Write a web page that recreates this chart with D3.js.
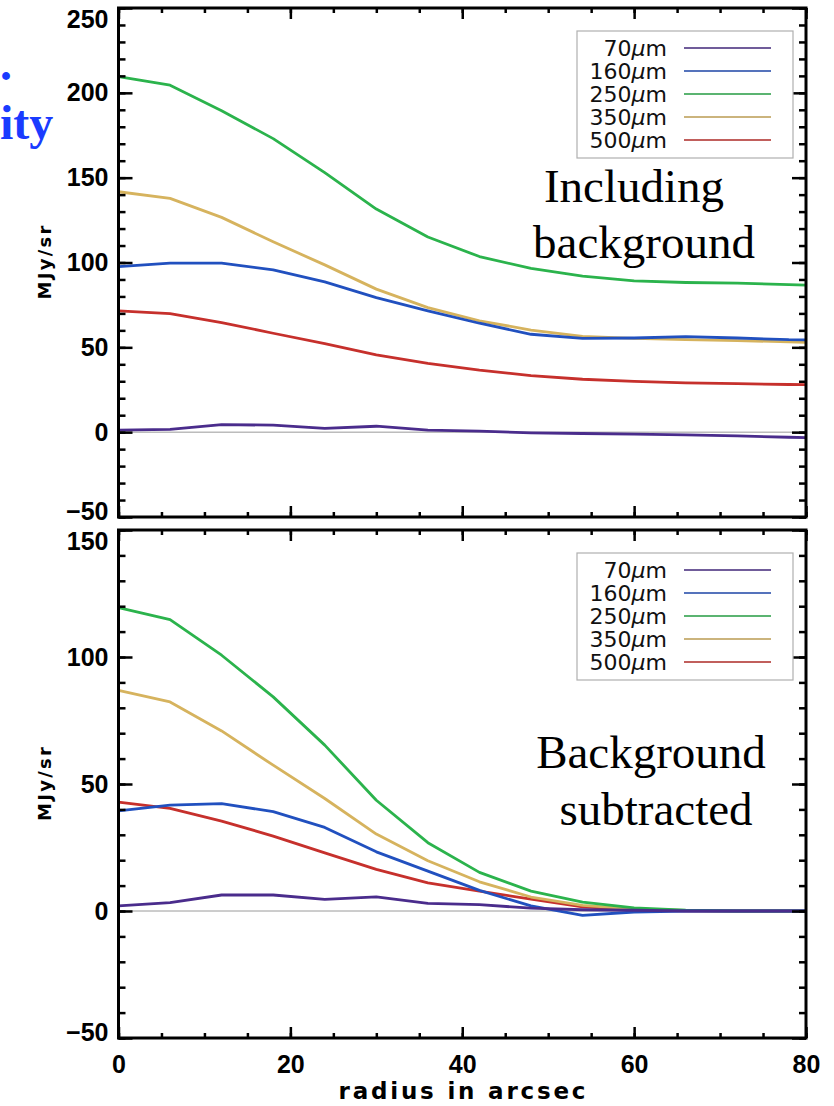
<!DOCTYPE html>
<html>
<head>
<meta charset="utf-8">
<script src="https://cdn.jsdelivr.net/npm/d3@7"></script>
<style>
  body { margin: 0; background: #fff; }
  svg { display: block; }
</style>
</head>
<body>
<script>
const svgWidth = 834;
const svgHeight = 1106;

// radius in arcsec (last point lies past the frame and is clipped)
const radii = [0, 6, 12, 18, 24, 30, 36, 42, 48, 54, 60, 66, 72, 78, 84];

const bands = ['70', '160', '250', '350', '500'];
const bandColors = ['#4a2c8c', '#2150bf', '#2bb34c', '#d6b35e', '#c6302c'];

// top panel: including background (MJy/sr)
const withBg70  = [1.2, 1.6, 4.5, 4.1, 2.2, 3.5, 1.2, 0.6, -0.4, -0.8, -1.2, -1.6, -2.2, -3.0, -3.5];
const withBg160 = [97.6, 99.6, 99.6, 95.7, 88.6, 79.3, 71.5, 64.2, 57.7, 55.3, 55.5, 56.3, 55.5, 54.5, 54.2];
const withBg250 = [209.5, 204.5, 189.5, 173, 153, 131.5, 115, 103.5, 96.5, 92, 89.2, 88.2, 87.8, 87, 86];
const withBg350 = [141.7, 137.8, 126.6, 112.2, 98.6, 84.3, 73.4, 65.6, 60.2, 56.5, 55.3, 54.5, 54, 53.2, 52.5];
const withBg500 = [71.5, 69.9, 64.6, 58.3, 52.2, 45.5, 40.6, 36.6, 33.3, 31.2, 29.9, 29.1, 28.6, 28.1, 27.8];

// bottom panel: background subtracted (MJy/sr)
const noBg70  = [2.0, 3.3, 6.3, 6.3, 4.6, 5.6, 3.0, 2.5, 1.1, 0.5, 0.3, 0, 0, 0, 0];
const noBg160 = [39.4, 41.7, 42.3, 39.1, 32.9, 23.3, 15.7, 8.1, 2.0, -1.7, -0.4, 0, 0, 0, 0];
const noBg250 = [119.4, 114.7, 100.7, 84.3, 65.3, 43.6, 26.9, 15.2, 7.8, 3.5, 1.2, 0.3, 0, 0, 0];
const noBg350 = [86.9, 82.3, 70.9, 57.4, 44.3, 30.3, 19.8, 11.5, 5.5, 2.2, 0.8, 0.2, 0, 0, 0];
const noBg500 = [42.9, 40.4, 35.4, 29.5, 22.9, 16.4, 11.1, 7.8, 4.7, 1.6, 0.5, 0.1, 0, 0, 0];

const xTicks = [0, 20, 40, 60, 80];

const panels = [
    {id: 'top', top: 8, bottom: 517, domain: [-50, 250], yTicks: [-50, 0, 50, 100, 150, 200, 250],
     series: [withBg70, withBg160, withBg250, withBg350, withBg500],
     note: ['Including', 'background'], noteX: [634, 644], noteY: [202, 258], xLabels: false},
    {id: 'bot', top: 530, bottom: 1038, domain: [-50, 150], yTicks: [-50, 0, 50, 100, 150],
     series: [noBg70, noBg160, noBg250, noBg350, noBg500],
     note: ['Background', 'subtracted'], noteX: [651, 656], noteY: [768, 825], xLabels: true}
];

const left = 118.5, right = 806;
const x = d3.scaleLinear().domain([0, 80]).range([left, right]);

const svg = d3.select('body').append('svg')
    .attr('width', svgWidth)
    .attr('height', svgHeight);

// leftover text from the neighbouring figure
svg.append('text').attr('x', 0).attr('y', 80)
    .attr('font-family', 'Liberation Serif').attr('font-weight', 'bold')
    .attr('font-size', 48).attr('fill', '#1a3bff').text('.');
svg.append('text').attr('x', 0).attr('y', 139)
    .attr('font-family', 'Liberation Serif').attr('font-weight', 'bold')
    .attr('font-size', 48).attr('fill', '#1a3bff').text('ity');

const tickFont = 'Liberation Sans';
const labelFont = 'DejaVu Sans';

function styleAxis(g) {
    g.select('.domain').remove();
    g.selectAll('line').attr('stroke', '#000').attr('stroke-width', 2.5);
}

function range(a, b, step) {
    return d3.range(a, b + step / 2, step);
}

panels.forEach(function(p) {
    const y = d3.scaleLinear().domain(p.domain).range([p.bottom, p.top]);
    const g = svg.append('g').attr('class', 'panel-' + p.id);

    g.append('clipPath').attr('id', 'clip-' + p.id)
        .append('rect')
        .attr('x', left).attr('y', p.top)
        .attr('width', right - left).attr('height', p.bottom - p.top);

    // zero line
    g.append('line')
        .attr('x1', left).attr('x2', right)
        .attr('y1', y(0)).attr('y2', y(0))
        .attr('stroke', '#9a9a9a').attr('stroke-width', 1);

    // curves, drawn from 500 down to 70 so the short bands sit on top
    const line = d3.line().x((d, i) => x(radii[i])).y(d => y(d));
    const lines = g.append('g').attr('clip-path', 'url(#clip-' + p.id + ')');
    for (let k = p.series.length - 1; k >= 0; k--) {
        lines.append('path')
            .datum(p.series[k])
            .attr('d', line)
            .attr('fill', 'none')
            .attr('stroke', bandColors[k])
            .attr('stroke-width', 2.8)
            .attr('stroke-linejoin', 'round');
    }

    // y ticks, inward on both sides
    const yMinor = range(p.domain[0], p.domain[1], 10);
    g.append('g').attr('transform', 'translate(' + left + ',0)')
        .call(d3.axisRight(y).tickValues(yMinor).tickSize(7).tickFormat(''))
        .call(styleAxis);
    g.append('g').attr('transform', 'translate(' + left + ',0)')
        .call(d3.axisRight(y).tickValues(p.yTicks).tickSize(14).tickFormat(''))
        .call(styleAxis);
    g.append('g').attr('transform', 'translate(' + right + ',0)')
        .call(d3.axisLeft(y).tickValues(yMinor).tickSize(7).tickFormat(''))
        .call(styleAxis);
    g.append('g').attr('transform', 'translate(' + right + ',0)')
        .call(d3.axisLeft(y).tickValues(p.yTicks).tickSize(14).tickFormat(''))
        .call(styleAxis);

    const yLab = g.append('g').attr('transform', 'translate(' + left + ',0)')
        .call(d3.axisLeft(y).tickValues(p.yTicks).tickSize(0).tickPadding(10));
    yLab.select('.domain').remove();
    yLab.selectAll('text')
        .attr('font-family', tickFont).attr('font-weight', 'bold')
        .attr('font-size', 25).attr('fill', '#000')
        // end labels sit a little inside the frame, as in the original
        .attr('y', d => d === p.domain[1] ? 11 : (d === p.domain[0] ? -6 : 0));

    // x ticks, inward at bottom and top
    const xMinor = range(0, 80, 5);
    g.append('g').attr('transform', 'translate(0,' + p.bottom + ')')
        .call(d3.axisTop(x).tickValues(xMinor).tickSize(5).tickFormat(''))
        .call(styleAxis);
    g.append('g').attr('transform', 'translate(0,' + p.bottom + ')')
        .call(d3.axisTop(x).tickValues(xTicks).tickSize(11).tickFormat(''))
        .call(styleAxis);
    g.append('g').attr('transform', 'translate(0,' + p.top + ')')
        .call(d3.axisBottom(x).tickValues(xMinor).tickSize(5).tickFormat(''))
        .call(styleAxis);
    g.append('g').attr('transform', 'translate(0,' + p.top + ')')
        .call(d3.axisBottom(x).tickValues(xTicks).tickSize(11).tickFormat(''))
        .call(styleAxis);

    if (p.xLabels) {
        const xLab = g.append('g').attr('transform', 'translate(0,' + p.bottom + ')')
            .call(d3.axisBottom(x).tickValues(xTicks).tickSize(0).tickPadding(17));
        xLab.select('.domain').remove();
        xLab.selectAll('text')
            .attr('font-family', tickFont).attr('font-weight', 'bold')
            .attr('font-size', 25).attr('fill', '#000');
    }

    // frame
    g.append('rect')
        .attr('x', left).attr('y', p.top)
        .attr('width', right - left).attr('height', p.bottom - p.top)
        .attr('fill', 'none').attr('stroke', '#000').attr('stroke-width', 3);

    // y label
    const cy = (p.top + p.bottom) / 2;
    g.append('text')
        .attr('transform', 'translate(51,' + cy + ') rotate(-90)')
        .attr('text-anchor', 'middle')
        .attr('font-family', labelFont).attr('font-weight', 'bold')
        .attr('font-size', 18)
        .attr('textLength', 74).attr('lengthAdjust', 'spacing')
        .text('MJy/sr');

    // legend
    const lgTop = p.top + 23;
    const lg = g.append('g');
    lg.append('rect')
        .attr('x', 577).attr('y', lgTop)
        .attr('width', 216).attr('height', 127)
        .attr('fill', '#fff').attr('stroke', '#b0b0b0').attr('stroke-width', 1.2);
    bands.forEach(function(b, k) {
        const by = lgTop + 25 + k * 23;
        const t = lg.append('text')
            .attr('x', 667).attr('y', by)
            .attr('text-anchor', 'end')
            .attr('font-family', 'DejaVu Sans')
            .attr('font-size', 22).attr('fill', '#111');
        t.append('tspan').text(b);
        t.append('tspan').attr('font-style', 'italic').text('\u00b5');
        t.append('tspan').text('m');
        lg.append('line')
            .attr('x1', 684).attr('x2', 771)
            .attr('y1', by - 8).attr('y2', by - 8)
            .attr('stroke', d3.color(bandColors[k]).darker(0.4))
            .attr('stroke-width', 1.6);
    });

    // panel annotation
    p.note.forEach(function(s, k) {
        g.append('text')
            .attr('x', p.noteX[k]).attr('y', p.noteY[k])
            .attr('text-anchor', 'middle')
            .attr('font-family', 'Liberation Serif')
            .attr('font-size', 47).attr('fill', '#000')
            .text(s);
    });
});

svg.append('text')
    .attr('x', 462).attr('y', 1099)
    .attr('text-anchor', 'middle')
    .attr('font-family', labelFont).attr('font-weight', 'bold')
    .attr('font-size', 23)
    .attr('textLength', 247).attr('lengthAdjust', 'spacing')
    .text('radius in arcsec');
</script>
</body>
</html>
